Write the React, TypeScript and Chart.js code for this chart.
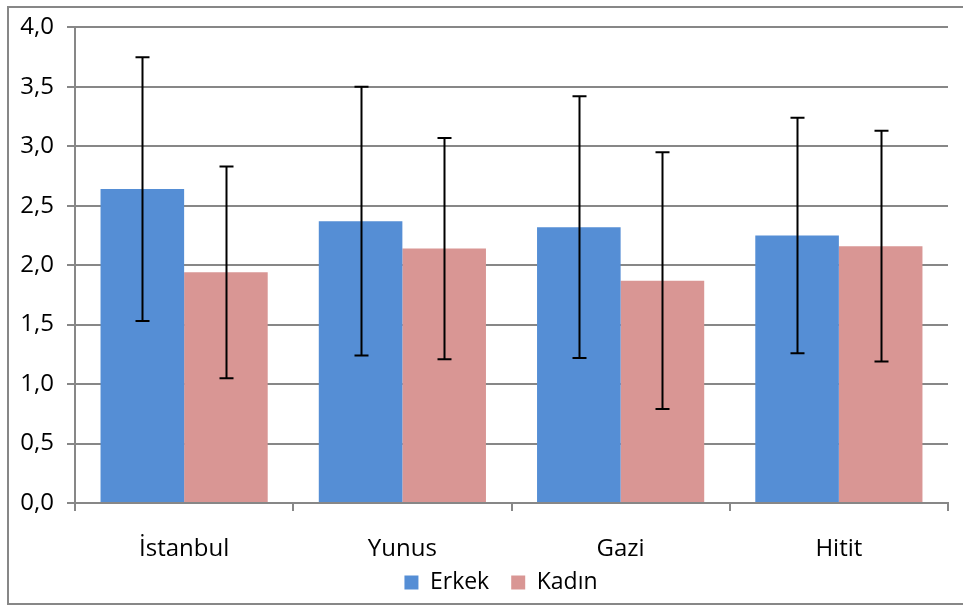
import React, { useEffect, useRef } from "react";
import { Chart, registerables } from "chart.js";

Chart.register(...registerables);

const categories = ["İstanbul", "Yunus", "Gazi", "Hitit"];
const seriesNames = ["Erkek", "Kadın"];
const erkekValues = [2.64, 2.37, 2.32, 2.25];
const erkekSD = [1.11, 1.13, 1.1, 0.99];
const kadinValues = [1.94, 2.14, 1.87, 2.16];
const kadinSD = [0.89, 0.93, 1.08, 0.97];
const yMin = 0;
const yMax = 4;
const yStep = 0.5;

const FONT = "'Open Sans', 'Noto Sans', sans-serif";
const GRAY = "#878787";

const errorBarPlugin = {
  id: "errorBars",
  afterDatasetsDraw(chart: any) {
    const ctx = chart.ctx;
    const yScale = chart.scales.y;
    const errs = [erkekSD, kadinSD];
    chart.data.datasets.forEach((ds: any, di: number) => {
      const meta = chart.getDatasetMeta(di);
      meta.data.forEach((bar: any, i: number) => {
        const v = ds.data[i];
        const e = errs[di][i];
        const x = Math.round(bar.x) + 0.5;
        const yTop = yScale.getPixelForValue(v + e);
        const yBot = yScale.getPixelForValue(v - e);
        ctx.save();
        ctx.strokeStyle = "#000";
        ctx.lineWidth = 2;
        ctx.beginPath();
        ctx.moveTo(x, yTop);
        ctx.lineTo(x, yBot);
        ctx.moveTo(x - 7, yTop);
        ctx.lineTo(x + 7, yTop);
        ctx.moveTo(x - 7, yBot);
        ctx.lineTo(x + 7, yBot);
        ctx.stroke();
        ctx.restore();
      });
    });
  },
};

const framePlugin = {
  id: "frame",
  beforeDraw(chart: any) {
    const ctx = chart.ctx;
    ctx.save();
    ctx.fillStyle = "#fff";
    ctx.fillRect(0, 0, chart.width, chart.height);
    ctx.strokeStyle = GRAY;
    ctx.lineWidth = 2;
    ctx.beginPath();
    ctx.moveTo(chart.width + 5, 7);
    ctx.lineTo(8, 7);
    ctx.lineTo(8, 604);
    ctx.lineTo(chart.width + 5, 604);
    ctx.stroke();
    ctx.restore();
  },
};

// nudge the legend and let x labels extend below the axis box
const layoutTweakPlugin = {
  id: "layoutTweak",
  afterLayout(chart: any) {
    const x = chart.scales.x;
    if (x) x.bottom = x.top + 60;
    const lg = chart.legend;
    if (lg) {
      lg.left += 27;
      lg.right += 27;
      lg.top -= 2;
      lg.bottom -= 2;
    }
  },
};

export default function App() {
  const ref = useRef<HTMLCanvasElement | null>(null);
  useEffect(() => {
    if (!ref.current) return;
    const chart = new Chart(ref.current, {
      type: "bar",
      data: {
        labels: categories,
        datasets: [
          {
            label: seriesNames[0],
            data: erkekValues,
            backgroundColor: "#558ED5",
            borderWidth: 0,
          },
          {
            label: seriesNames[1],
            data: kadinValues,
            backgroundColor: "#D99694",
            borderWidth: 0,
          },
        ],
      },
      options: {
        responsive: false,
        animation: false,
        datasets: {
          bar: { barPercentage: 1, categoryPercentage: 0.766 },
        },
        layout: { padding: { left: 0, right: 15, top: 27, bottom: 0 } },
        plugins: {
          tooltip: { enabled: false },
          legend: {
            position: "bottom",
            labels: {
              boxWidth: 14,
              boxHeight: 14,
              padding: 22,
              color: "#000",
              font: { family: FONT, size: 23 },
            },
          },
        },
        scales: {
          x: {
            afterFit(scale: any) {
              scale.height = 48;
            },
            grid: {
              offset: true,
              drawOnChartArea: false,
              drawTicks: true,
              tickLength: 8,
              color: GRAY,
              lineWidth: 2,
            },
            border: { display: true, color: GRAY, width: 2 },
            ticks: {
              color: "#000",
              padding: 24,
              font: { family: FONT, size: 24 },
            },
          },
          y: {
            min: yMin,
            max: yMax,
            afterFit(scale: any) {
              scale.width = 75;
            },
            grid: {
              color: GRAY,
              lineWidth: 2,
              tickLength: 8,
              drawTicks: true,
            },
            border: { display: true, color: GRAY, width: 2 },
            ticks: {
              stepSize: yStep,
              color: "#000",
              padding: 13,
              font: { family: FONT, size: 24 },
              callback: (v: any) => Number(v).toFixed(1).replace(".", ","),
            },
          },
        },
      },
      plugins: [framePlugin, errorBarPlugin, layoutTweakPlugin],
    });
    return () => chart.destroy();
  }, []);
  return (
    <div
      style={{
        position: "absolute",
        left: 0,
        top: 0,
        width: 963,
        height: 606,
        overflow: "hidden",
        background: "#fff",
      }}
    >
      <canvas ref={ref} width={963} height={606} style={{ display: "block" }} />
    </div>
  );
}
